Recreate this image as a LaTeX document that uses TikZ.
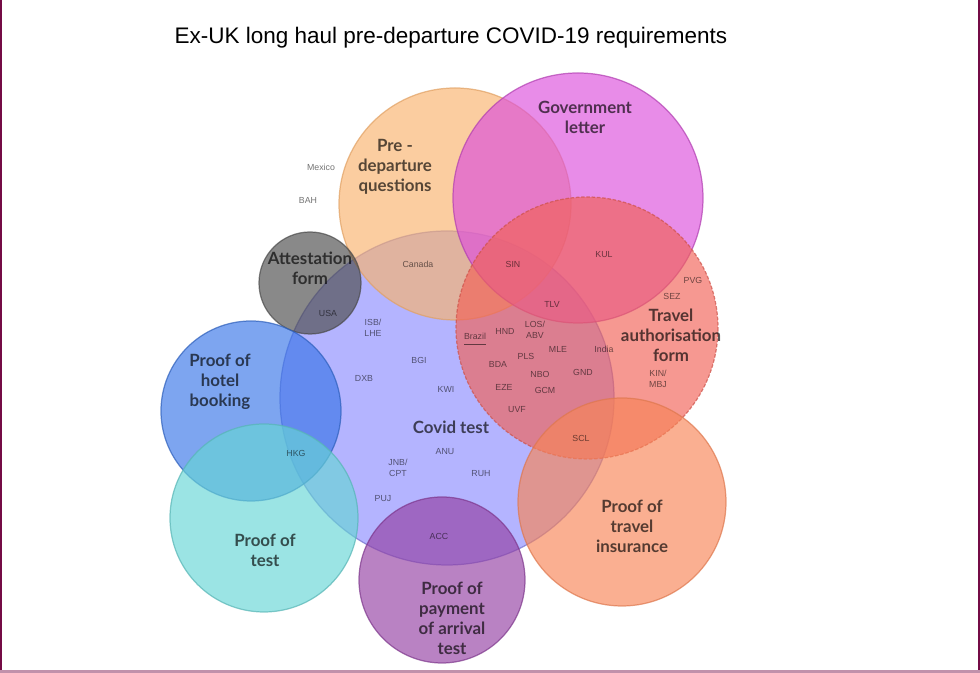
\documentclass[tikz,border=0pt]{standalone}
\usepackage{fontspec}
\setmainfont{Liberation Sans}
\newfontfamily\lato{Lato}
\usepackage{tikz}
\usepackage{xcolor}

\definecolor{covidc}{HTML}{8C8CFF}
\definecolor{predepc}{HTML}{F9B26D}
\definecolor{govc}{HTML}{DC4EDC}
\definecolor{authc}{HTML}{F16156}
\definecolor{attestc}{HTML}{4A4A4A}
\definecolor{hotelc}{HTML}{3775E8}
\definecolor{testc}{HTML}{65D5D5}
\definecolor{payc}{HTML}{933FA3}
\definecolor{insurec}{HTML}{F78456}
\definecolor{framec}{HTML}{740B45}

\tikzset{
  venn/.style={fill opacity=0.65, draw opacity=0.7, line width=0.35pt},
  lab/.style={font=\lato\bfseries\fontsize{4.8}{5.7}\selectfont, align=center, text opacity=0.66},
  code/.style={font=\fontsize{2.5}{3.1}\selectfont, align=center, text opacity=0.55},
}

\begin{document}
\begin{tikzpicture}[x=0.1mm, y=-0.1mm]
  \useasboundingbox (0,0) rectangle (980,673);
  % frame of the screenshot
  \fill[framec] (0,0) rectangle (2.5,673);
  \fill[framec] (977.5,0) rectangle (980,673);
  \fill[framec!45] (0,670.5) rectangle (980,673);

  \node[font=\fontsize{6.4}{7.7}\selectfont] (title) at (451,38) {Ex-UK long haul pre-departure COVID-19 requirements};

  % circles
  \draw[venn, fill=covidc, draw=covidc!80!black] (447,398) circle (167);
  \draw[venn, fill=predepc, draw=predepc!90!black] (455,204) circle (116);
  \draw[venn, fill=govc, draw=govc!80!black] (578,198) circle (125);
  \draw[venn, fill=authc, draw=authc!85!black, dash pattern=on 1pt off 0.5pt] (587,328) circle (131);
  \draw[venn, fill=attestc, draw=attestc] (310,283) circle (51);
  \draw[venn, fill=hotelc, draw=hotelc!80!black] (251,411) circle (90);
  \draw[venn, fill=testc, draw=testc!85!black] (264,518) circle (94);
  \draw[venn, fill=payc, draw=payc!85!black] (442,580) circle (83);
  \draw[venn, fill=insurec, draw=insurec!90!black] (622,502) circle (104);

  % requirement labels
  \node[lab] (predep) at (395,167) {Pre -\\departure\\questions};
  \node[lab] (gov) at (585,117) {Government\\letter};
  \node[lab] (attest) at (310,268) {Attestation\\form};
  \node[lab] (auth) at (671,335) {Travel\\authorisation\\form};
  \node[lab] (hotel) at (220,382) {Proof of\\hotel\\booking};
  \node[lab] (covid) at (451,427) {Covid test};
  \node[lab] (prooftest) at (265,550) {Proof of\\test};
  \node[lab] (pay) at (452,618) {Proof of\\payment\\of arrival\\test};
  \node[lab] (insure) at (632,526) {Proof of\\travel\\insurance};

  % destinations
  \node[code] (mex) at (321,167) {Mexico};
  \node[code] (bah) at (308,200) {BAH};
  \node[code] (yyz) at (418,264) {Canada};
  \node[code] (usa) at (328,313) {USA};
  \node[code] (sin) at (513,264) {SIN};
  \node[code] (kul) at (604,255) {KUL};
  \node[code] (pvg) at (693,280) {PVG};
  \node[code] (sez) at (672,296) {SEZ};
  \node[code] (tlv) at (552,304) {TLV};
  \node[code] (los) at (535,329.5) {LOS/\\ABV};
  \node[code] (hnd) at (505,331) {HND};
  \node[code] (bra) at (475,340) {\underline{Brazil}};
  \node[code] (mle) at (558,349) {MLE};
  \node[code] (ind) at (604,349) {India};
  \node[code] (pls) at (526,356) {PLS};
  \node[code] (bda) at (498,364) {BDA};
  \node[code] (nbo) at (540,374) {NBO};
  \node[code] (gnd) at (583,372) {GND};
  \node[code] (eze) at (504,387) {EZE};
  \node[code] (gcm) at (545,390) {GCM};
  \node[code] (uvf) at (517,410) {UVF};
  \node[code] (kin) at (658,379) {KIN/\\MBJ};
  \node[code] (isb) at (373,328) {ISB/\\LHE};
  \node[code] (bgi) at (419,360) {BGI};
  \node[code] (dxb) at (364,378) {DXB};
  \node[code] (kwi) at (446,389) {KWI};
  \node[code] (anu) at (445,452) {ANU};
  \node[code] (jnb) at (398,468) {JNB/\\CPT};
  \node[code] (ruh) at (481,474) {RUH};
  \node[code] (puj) at (383,499) {PUJ};
  \node[code] (acc) at (439,536) {ACC};
  \node[code] (hkg) at (296,453) {HKG};
  \node[code] (scl) at (581,438) {SCL};
\end{tikzpicture}
\end{document}
